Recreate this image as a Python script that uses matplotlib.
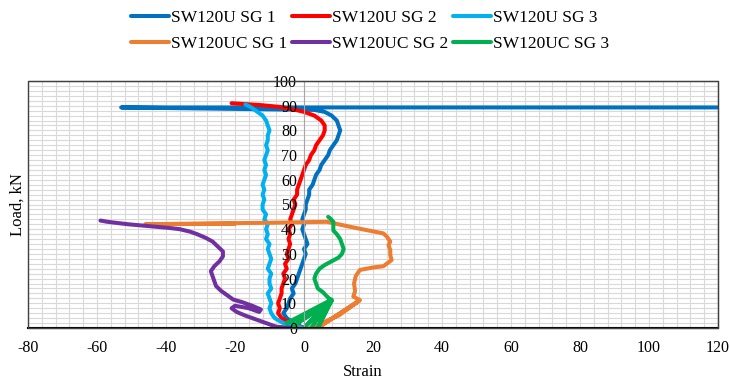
import numpy as np
import matplotlib
matplotlib.use("Agg")
import matplotlib.pyplot as plt
from matplotlib.patches import Rectangle

plt.rcParams['font.family'] = ['Liberation Serif', 'DejaVu Serif']

# ---------------- data (strain, load kN) ----------------
series_names = ["SW120U SG 1", "SW120U SG 2", "SW120U SG 3",
                "SW120UC SG 1", "SW120UC SG 2", "SW120UC SG 3"]
series_colors = ["#0070C0", "#FF0000", "#00B0F0", "#ED7D31", "#7030A0", "#00B050"]

u_sg1_load = [0, 2, 4, 6, 8, 10, 12, 14, 16, 18, 20, 22, 24, 26, 28, 30, 32, 34, 36, 38,
              40, 42, 44, 46, 48, 50, 52, 54, 56, 58, 60, 62, 64, 66, 68, 70, 72, 74, 76,
              78, 80, 82, 84, 86, 87.5, 88.3, 89.3, 89.3]
u_sg1_strain = [0, -3, -5, -6, -5, -4.5, -4, -3, -3.5, -2.5, -2, -1.5, -1, -0.5, 0, 0.5, 0,
                1, 0.5, 0, -0.5, 0, -0.5, 0, 0.5, 0.5, 1, 1.5, 1.5, 2.5, 3, 3.5, 4.5, 5, 6,
                7, 7.5, 8.5, 9.5, 10, 10.5, 10, 9.5, 8, 6, 3, -53, 200]

u_sg2_load = [0, 2, 4, 6, 8, 10, 12, 14, 16, 18, 20, 22, 24, 26, 28, 30, 32, 34, 36, 38,
              40, 42, 44, 46, 48, 50, 52, 54, 56, 58, 60, 62, 64, 66, 68, 70, 72, 74, 76,
              78, 80, 82, 84, 86, 87.5, 88.5, 89.5, 90.3, 91]
u_sg2_strain = [0, -4, -6.5, -7.5, -7, -7.5, -7, -6.5, -6.5, -6, -5.5, -6, -5, -5.5, -4.5,
                -5, -4.5, -4, -4.5, -4, -4.5, -3.5, -4, -3.5, -3, -2.5, -3, -2, -2, -1.5,
                -1, -0.5, 0, 0.5, 1.5, 2, 3, 3.5, 4.5, 5.5, 6, 6, 5, 3, 0, -3, -7, -13, -21]

u_sg3_load = [0, 2, 4, 6, 8, 10, 12, 14, 16, 18, 20, 22, 24, 26, 28, 30, 32, 34, 36, 38,
              40, 42, 44, 46, 48, 50, 52, 54, 56, 58, 60, 62, 64, 66, 68, 70, 72, 74, 76,
              78, 80, 82, 84, 86, 88, 89.5, 90.5]
u_sg3_strain = [0, -6, -8.5, -9.5, -10, -9.5, -10, -10.5, -9.5, -10, -10, -9.5, -10.5, -10,
                -9.5, -10, -10.5, -10, -11, -10.5, -11, -10.5, -11.5, -11, -12, -12, -11.5,
                -12, -11.5, -12, -11.5, -11, -11.5, -11, -11.5, -11, -10.5, -11, -10.5,
                -10.5, -10, -10.5, -11, -12, -14, -15.5, -17]

uc_sg1_load = [0, 5, 11, 0.5, 11.3, 12.7, 15, 18, 21, 23.5, 24.5, 25, 27.5, 29.5, 31.6,
               33.5, 35, 37, 38.3, 40.5, 43, 42.6, 42.3, 42, 42.2]
uc_sg1_strain = [2, 10, 16, 4.5, 16.2, 14.3, 14.8, 14.5, 15, 16.2, 20, 23, 25.4, 25, 25,
                 24.5, 25, 24, 23, 15, 6.6, -10, -30, -46, -20]

uc_sg2_load = [0, 0.5, 2, 3.5, 5, 6.5, 8, 9, 8, 6.5, 7.5, 9, 10.5, 11.5, 13, 15, 17, 19,
               21, 23, 25, 27, 29, 31, 33, 35, 36.5, 38, 39, 40, 40.5, 41, 41.5, 42, 42.5,
               43, 43.5]
uc_sg2_strain = [-3, -8, -11, -14, -17, -19.5, -21, -20, -16, -13, -12.5, -15, -18, -20.5,
                 -22, -24, -25.5, -26, -26.5, -27, -26, -24.5, -23.5, -23.5, -25, -26.5,
                 -28.5, -31, -33, -36, -39, -43, -47, -51, -54, -57, -59]

uc_sg3_load = [0, 11, 1, 10, 0, 11.5, 2, 9, 0, 11, 13, 14.5, 16, 18, 20, 22, 24, 25.5, 27,
               28.5, 30, 32, 34, 36, 38, 39.5, 41, 43, 44.5, 45]
uc_sg3_strain = [2, 8, -3, 7, 0, 8, -5, 7, 4, 8, 6.5, 5.5, 4, 3.5, 3, 3.5, 4.5, 6, 8, 10,
                 11, 11.5, 11, 10.5, 9.5, 8.5, 8.5, 8.5, 7.5, 7]

series_strain = [u_sg1_strain, u_sg2_strain, u_sg3_strain,
                 uc_sg1_strain, uc_sg2_strain, uc_sg3_strain]
series_load = [u_sg1_load, u_sg2_load, u_sg3_load,
               uc_sg1_load, uc_sg2_load, uc_sg3_load]

x_ticks = [-80, -60, -40, -20, 0, 20, 40, 60, 80, 100, 120]
y_ticks = [0, 10, 20, 30, 40, 50, 60, 70, 80, 90, 100]

# ---------------- figure ----------------
fig = plt.figure(figsize=(7.3, 3.8), dpi=100)
ax = fig.add_axes([28/730, 1-328/380, 690/730, 247/380])
ax.set_xlim(-80, 120)
ax.set_ylim(0, 100)

# grid (drawn beneath the data)
for v in np.arange(-80, 121, 4):
    ax.axvline(v, color="#D9D9D9", lw=0.8, zorder=0.5)
for h in np.arange(0, 101, 2):
    ax.axhline(h, color="#D9D9D9", lw=0.8, zorder=0.5)

handles = []
for s, l, c, n in zip(series_strain, series_load, series_colors, series_names):
    ln, = ax.plot(s, l, color=c, lw=2.9, label=n, solid_joinstyle='round',
                  solid_capstyle='round', zorder=2)
    handles.append(ln)

ax.set_axisbelow(False)
ax.set_xticks(x_ticks)
ax.set_yticks(y_ticks)
ax.set_xticklabels([str(t) for t in x_ticks])
ax.set_yticklabels([str(t) for t in y_ticks])
ax.tick_params(axis='both', length=0, labelsize=11.5)
ax.tick_params(axis='x', pad=9)
ax.tick_params(axis='y', pad=5)

ax.spines['left'].set_position(('data', 0))
ax.spines['left'].set_color("#A6A6A6")
ax.spines['left'].set_linewidth(0.8)
ax.spines['top'].set_color("#404040")
ax.spines['right'].set_color("#404040")
ax.spines['bottom'].set_color("black")
ax.spines['bottom'].set_linewidth(1.5)
ax.add_patch(Rectangle((0, 0), 1, 1, transform=ax.transAxes, fill=False,
                       edgecolor="#404040", lw=1.0, zorder=3, clip_on=False))

fig.text(18/730, 1-205/380, "Load, kN", rotation=90, ha='center', va='center', fontsize=12)
fig.text(363/730, 1-372/380, "Strain", ha='center', va='center', fontsize=12)

order = [0, 3, 1, 4, 2, 5]
fig.legend([handles[i] for i in order], [series_names[i] for i in order],
           ncol=3, loc='upper center', bbox_to_anchor=(0.507, 1.0), frameon=False,
           fontsize=12.5, handlelength=2.2, handletextpad=0.12, columnspacing=0.25,
           labelspacing=0.6, borderaxespad=0.15)

fig.savefig("out.png", dpi=100)
